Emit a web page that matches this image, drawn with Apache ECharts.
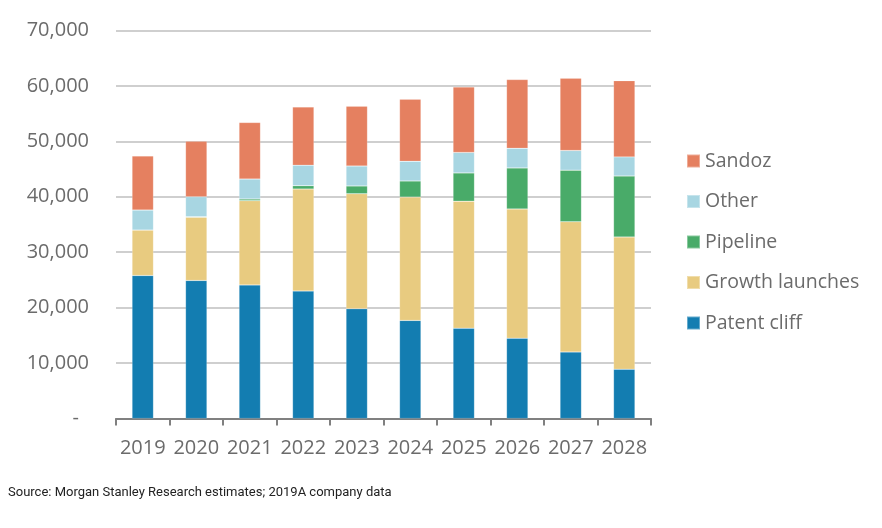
<!DOCTYPE html>
<html><head><meta charset="utf-8">
<script src="https://cdn.jsdelivr.net/npm/echarts@6/dist/echarts.min.js"></script>
<style>html,body{margin:0;padding:0;background:#fff}#c{width:882px;height:528px}</style>
</head><body><div id="c"></div>
<script>
const years = ['2019','2020','2021','2022','2023','2024','2025','2026','2027','2028'];
const patentCliff = [25800, 24900, 24100, 23000, 19800, 17700, 16300, 14500, 12000, 8900];
const growthLaunches = [8200, 11400, 15200, 18400, 20750, 22250, 22900, 23300, 23500, 23850];
const pipeline = [0, 100, 300, 600, 1400, 2900, 5100, 7400, 9300, 11000];
const other = [3600, 3600, 3600, 3700, 3600, 3550, 3700, 3550, 3550, 3450];
const sandoz = [9750, 10000, 10200, 10500, 10800, 11200, 11800, 12400, 13050, 13750];
const yTicks = {min: 0, max: 70000, interval: 10000};

const font = 'Open Sans';
const txt = '#6b6b6b';
const chart = echarts.init(document.getElementById('c'));
function s(name, data, color) {
  return {name, type: 'bar', stack: 'total', data, barWidth: '40%',
    itemStyle: {color, borderColor: 'rgba(255,255,255,0.35)', borderWidth: 0.5},
    emphasis: {disabled: true}};
}
chart.setOption({
  animation: false,
  grid: {left: 116, right: 231, top: 30.5, bottom: 109.5},
  legend: {
    orient: 'vertical', left: 681, top: 146, itemGap: 20.5,
    itemWidth: 13, itemHeight: 13, icon: 'rect',
    data: ['Sandoz', 'Other', 'Pipeline', 'Growth launches', 'Patent cliff'],
    textStyle: {fontFamily: font, fontSize: 19.5, color: txt}
  },
  xAxis: {
    type: 'category', data: years,
    axisLine: {lineStyle: {color: '#808080', width: 2}},
    axisTick: {show: true, length: 7, lineStyle: {color: '#808080', width: 2}},
    axisLabel: {fontFamily: font, fontSize: 20, color: txt, margin: 20, interval: 0}
  },
  yAxis: {
    type: 'value', min: yTicks.min, max: yTicks.max, interval: yTicks.interval,
    axisLine: {show: false}, axisTick: {show: false},
    splitLine: {lineStyle: {color: '#bfbfbf', width: 1.5}},
    axisLabel: {fontFamily: font, fontSize: 20, color: txt, margin: 27,
      formatter: v => v === 0 ? '-\u2002' : v.toLocaleString('en-US')}
  },
  graphic: [{type: 'text', left: 8, top: 486,
    style: {text: 'Source: Morgan Stanley Research estimates; 2019A company data',
      font: '13px Roboto', fill: '#222'}}],
  series: [
    s('Patent cliff', patentCliff, '#137db1'),
    s('Growth launches', growthLaunches, '#e8cb80'),
    s('Pipeline', pipeline, '#49ab69'),
    s('Other', other, '#a8d6e2'),
    s('Sandoz', sandoz, '#e58060')
  ]
});
</script></body></html>
